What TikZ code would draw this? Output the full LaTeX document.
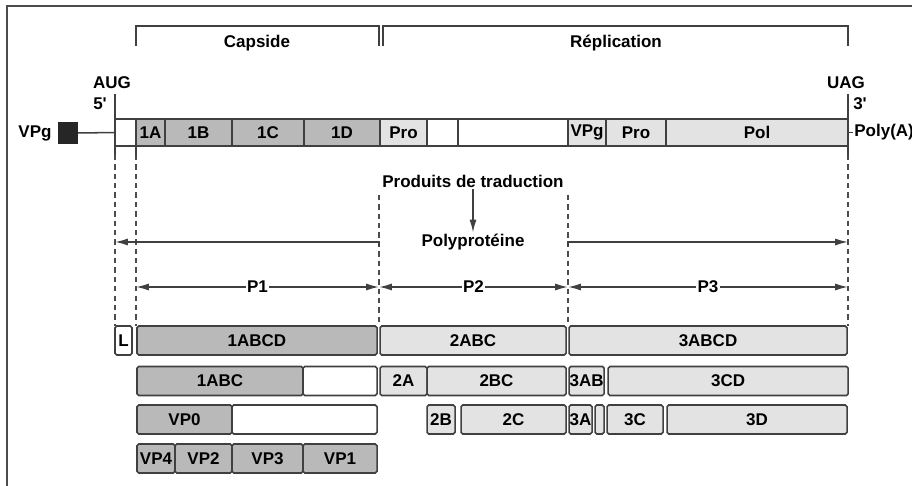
\documentclass[tikz,border=0pt]{standalone}
\usepackage{fontspec}
\setmainfont{Liberation Sans}
\usepackage{tikz}
\usetikzlibrary{arrows.meta, positioning}

\begin{document}
\begin{tikzpicture}[
    x=0.03cm, y=-0.03cm,
    >={Latex[length=11pt,width=6pt]},
    every node/.style={font=\fontsize{14.5}{16}\selectfont\bfseries},
    genseg/.style={draw=black!75, line width=1.3pt, minimum height=0.81cm, inner sep=0.5pt, outer sep=0pt},
    capseg/.style={genseg, fill=gray!55},
    repseg/.style={genseg, fill=gray!22},
    protbox/.style={genseg, rounded corners=1.5pt, minimum height=0.87cm, fill=white},
    capbox/.style={protbox, fill=gray!55},
    repbox/.style={protbox, fill=gray!22},
    rna/.style={draw=black!75, line width=1.3pt},
    guide/.style={draw=black!70, line width=1.3pt, dash pattern=on 4.5pt off 3.5pt},
    frameline/.style={draw=black!70, line width=1.5pt}
  ]
    \useasboundingbox (0,0) rectangle (912,486);
    \draw[frameline] (7,486) -- (7,6) -- (912,6);

    % Genome - segments side by side
    \node[genseg, minimum width=0.63cm, anchor=west] (g0) at (115,132.5) {};
    \node[capseg, minimum width=0.87cm, right=0cm of g0] (g1a) {1A};
    \node[capseg, minimum width=2.01cm, right=0cm of g1a] (g1b) {1B};
    \node[capseg, minimum width=2.16cm, right=0cm of g1b] (g1c) {1C};
    \node[capseg, minimum width=2.28cm, right=0cm of g1c] (g1d) {1D};
    \node[repseg, minimum width=1.41cm, right=0cm of g1d] (gpro2) {Pro};
    \node[genseg, minimum width=0.93cm, right=0cm of gpro2] (g2b) {};
    \node[genseg, minimum width=3.30cm, right=0cm of g2b] (g2c) {};
    \node[repseg, minimum width=1.14cm, right=0cm of g2c] (gvpg) {VPg};
    \node[repseg, minimum width=1.80cm, right=0cm of gvpg] (gpro3) {Pro};
    \node[repseg, minimum width=5.46cm, right=0cm of gpro3] (gpol) {Pol};

    % Ends of the RNA
    \node (vpgl) at (35,133) {VPg};
    \node[fill=black!85, minimum width=0.6cm, minimum height=0.66cm, inner sep=0pt] (vpgcap) at (68,133) {};
    \draw[rna] (vpgcap) -- (g0);
    \node (aug) at (112,83) {AUG};
    \node (five) at (100,104) {5\textquotesingle};
    \node (uag) at (846,83) {UAG};
    \node (three) at (860,104) {3\textquotesingle};
    \node[anchor=west, inner sep=1pt] (polya) at (853,132.5) {Poly(A)};
    \draw[rna] (gpol.east) -- (polya.west);

    % Brackets
    \node (capside) at (257,43) {Capside};
    \node (repl) at (616,43) {Réplication};
    \draw[rna] (136,46) -- (136,26) -- (379,26) -- (379,46);
    \draw[rna] (383,46) -- (383,26) -- (848,26) -- (848,46);

    % Translation products
    \node[inner sep=1pt] (prod) at (473,181) {Produits de traduction};
    \node[inner sep=1pt] (poly) at (473,242) {Polyprotéine};
    \draw[rna, ->] (prod) -- (poly);

    % Cleavage products - one row per step
    \node[protbox, minimum width=0.51cm, anchor=west] (r1l) at (115,340.5) {L};
    \node[capbox, minimum width=7.2cm, right=0.15cm of r1l] (r1abcd) {1ABCD};
    \node[repbox, minimum width=5.58cm, right=0.09cm of r1abcd] (r2abc) {2ABC};
    \node[repbox, minimum width=8.34cm, right=0.09cm of r2abc] (r3abcd) {3ABCD};

    \node[capbox, minimum width=4.98cm, anchor=west] (r1abc) at (137,381) {1ABC};
    \node[protbox, minimum width=2.22cm, right=0cm of r1abc] (r1abcx) {};
    \node[repbox, minimum width=1.41cm, right=0.09cm of r1abcx] (r2a) {2A};
    \node[repbox, minimum width=4.17cm, right=0cm of r2a] (r2bc) {2BC};
    \node[repbox, minimum width=1.02cm, right=0.09cm of r2bc] (r3ab) {3AB};
    \node[repbox, minimum width=7.2cm, right=0.12cm of r3ab] (r3cd) {3CD};

    \node[capbox, minimum width=2.85cm, anchor=west] (rvp0) at (137,419.5) {VP0};
    \node[protbox, minimum width=4.35cm, right=0cm of rvp0] (rvp0x) {};
    \node[repbox, minimum width=0.84cm, right=1.5cm of rvp0x] (r2b) {2B};
    \node[repbox, minimum width=3.15cm, right=0.18cm of r2b] (r2c) {2C};
    \node[repbox, minimum width=0.69cm, right=0.09cm of r2c] (r3a) {3A};
    \node[repbox, minimum width=0.27cm, right=0.09cm of r3a] (r3b) {};
    \node[repbox, minimum width=1.68cm, right=0.09cm of r3b] (r3c) {3C};
    \node[repbox, minimum width=5.4cm, right=0.12cm of r3c] (r3d) {3D};

    \node[capbox, minimum width=1.14cm, anchor=west] (rvp4) at (137,458.5) {VP4};
    \node[capbox, minimum width=1.71cm, right=0cm of rvp4] (rvp2) {VP2};
    \node[capbox, minimum width=2.13cm, right=0cm of rvp2] (rvp3) {VP3};
    \node[capbox, minimum width=2.22cm, right=0cm of rvp3] (rvp1) {VP1};

    % Guide lines
    \draw[rna] (g0.west |- five.north) -- (g0.south west) -- ++(0,9) coordinate (d0);
    \draw[guide] (d0) -- (d0 |- r1l.north);
    \draw[rna] (g1a.south west) -- ++(0,9) coordinate (d1);
    \draw[guide] (d1) -- (d1 |- r1abcd.north);
    \draw[rna] (gpol.east |- three.north) -- (gpol.south east) -- ++(0,9) coordinate (d4);
    \draw[guide] (d4) -- (d4 |- r3abcd.north);
    \coordinate (b1) at (379,195);
    \coordinate (b2) at (568,195);
    \draw[guide] (b1) -- (b1 |- r2abc.north);
    \draw[guide] (b2) -- (b2 |- r3abcd.north);

    % Polyprotein arrows
    \draw[rna, ->] ([yshift=-3pt]b1 |- poly) -- (b1 |- poly) -- (g0.west |- poly);
    \draw[rna, ->] ([yshift=-3pt]b2 |- poly) -- (b2 |- poly) -- (gpol.east |- poly);

    % Precursors
    \coordinate (p0) at (136,287);
    \coordinate (p1) at (379,287);
    \coordinate (p2) at (568,287);
    \coordinate (p3) at (848,287);
    \draw[rna, <->] (p0) -- node[fill=white, inner sep=1pt] (p1l) {P1} (p1);
    \draw[rna, <->] (p1) -- node[fill=white, inner sep=1pt] (p2l) {P2} (p2);
    \draw[rna, <->] (p2) -- node[fill=white, inner sep=1pt] (p3l) {P3} (p3);

\end{tikzpicture}
\end{document}
